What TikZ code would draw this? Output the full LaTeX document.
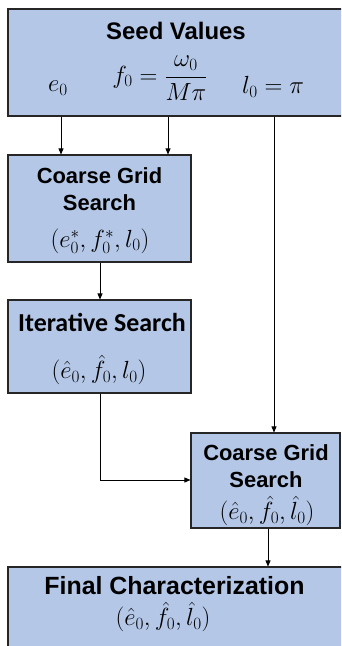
\documentclass[tikz,border=0pt]{standalone}
\usepackage{amsmath}
\usepackage{fontspec}
\setsansfont{Liberation Sans}
\newfontfamily\carlito{Carlito}
\usetikzlibrary{arrows.meta}
\definecolor{boxblue}{HTML}{B4C7E7}
\begin{document}
\begin{tikzpicture}[x=1bp,y=-1bp,
  box/.style={draw=black!85,line width=1.1pt,fill=boxblue,rectangle,inner sep=0pt},
  arr/.style={-{Triangle[length=6pt,width=5pt]},line width=0.7pt},
  ttl/.style={font=\sffamily\bfseries\fontsize{22}{27}\selectfont,inner sep=0pt},
  mth/.style={font=\fontsize{25}{30}\selectfont,inner sep=0pt}]
\useasboundingbox (0,0) rectangle (341,646);
\clip (0,0) rectangle (341,646);
% boxes
\node[box,minimum width=342bp,minimum height=107bp] (seed) at (179,62.5) {};
\node[box,minimum width=183bp,minimum height=107bp] (c1) at (99.5,208.5) {};
\node[box,minimum width=183bp,minimum height=93bp] (it) at (99.5,346.5) {};
\node[box,minimum width=149bp,minimum height=95bp] (c2) at (265.5,480.5) {};
\node[box,minimum width=342bp,minimum height=93bp] (fin) at (179,613.5) {};
% texts
\node[ttl,font=\sffamily\bfseries\fontsize{24}{28}\selectfont] (t1) at (176,31) {Seed Values};
\node[mth] (m1) at (58,88) {$e_0$};
\node[mth] (m2) at (160,78) {$f_0=\dfrac{\omega_0}{M\pi}$};
\node[mth] (m3) at (273,87) {$l_0=\pi$};
\node[ttl,align=center] (t2) at (99.5,189) {Coarse Grid\\Search};
\node[mth] (m4) at (100,241) {$(e_0^*,f_0^*,l_0)$};
\node[ttl,font=\carlito\bfseries\fontsize{26}{30}\selectfont] (t3) at (102,322) {Iterative Search};
\node[mth] (m5) at (99,370) {$(\hat e_0,\hat f_0,l_0)$};
\node[ttl,align=center] (t4) at (266,466) {Coarse Grid\\Search};
\node[mth] (m6) at (267,511) {$(\hat e_0,\hat f_0,\hat l_0)$};
\node[ttl,font=\sffamily\bfseries\fontsize{25}{30}\selectfont] (t5) at (174.5,586) {Final Characterization};
\node[mth] (m7) at (163,617) {$(\hat e_0,\hat f_0,\hat l_0)$};
% connector coordinates
\coordinate (xa) at (61,0);
\coordinate (xb) at (168,0);
\coordinate (xc) at (274,0);
\coordinate (xd) at (100,0);
\coordinate (xe) at (268,0);
\coordinate (ya) at (0,480);
% connectors
\draw[arr] (seed.south -| xa) -- (c1.north -| xa);
\draw[arr] (seed.south -| xb) -- (c1.north -| xb);
\draw[arr] (seed.south -| xc) -- (c2.north -| xc);
\draw[arr] (c1.south -| xd) -- (it.north -| xd);
\draw[arr] (it.south -| xd) -- (ya -| xd) -- (c2.west |- ya);
\draw[arr] (c2.south -| xe) -- (fin.north -| xe);
\end{tikzpicture}
\end{document}
